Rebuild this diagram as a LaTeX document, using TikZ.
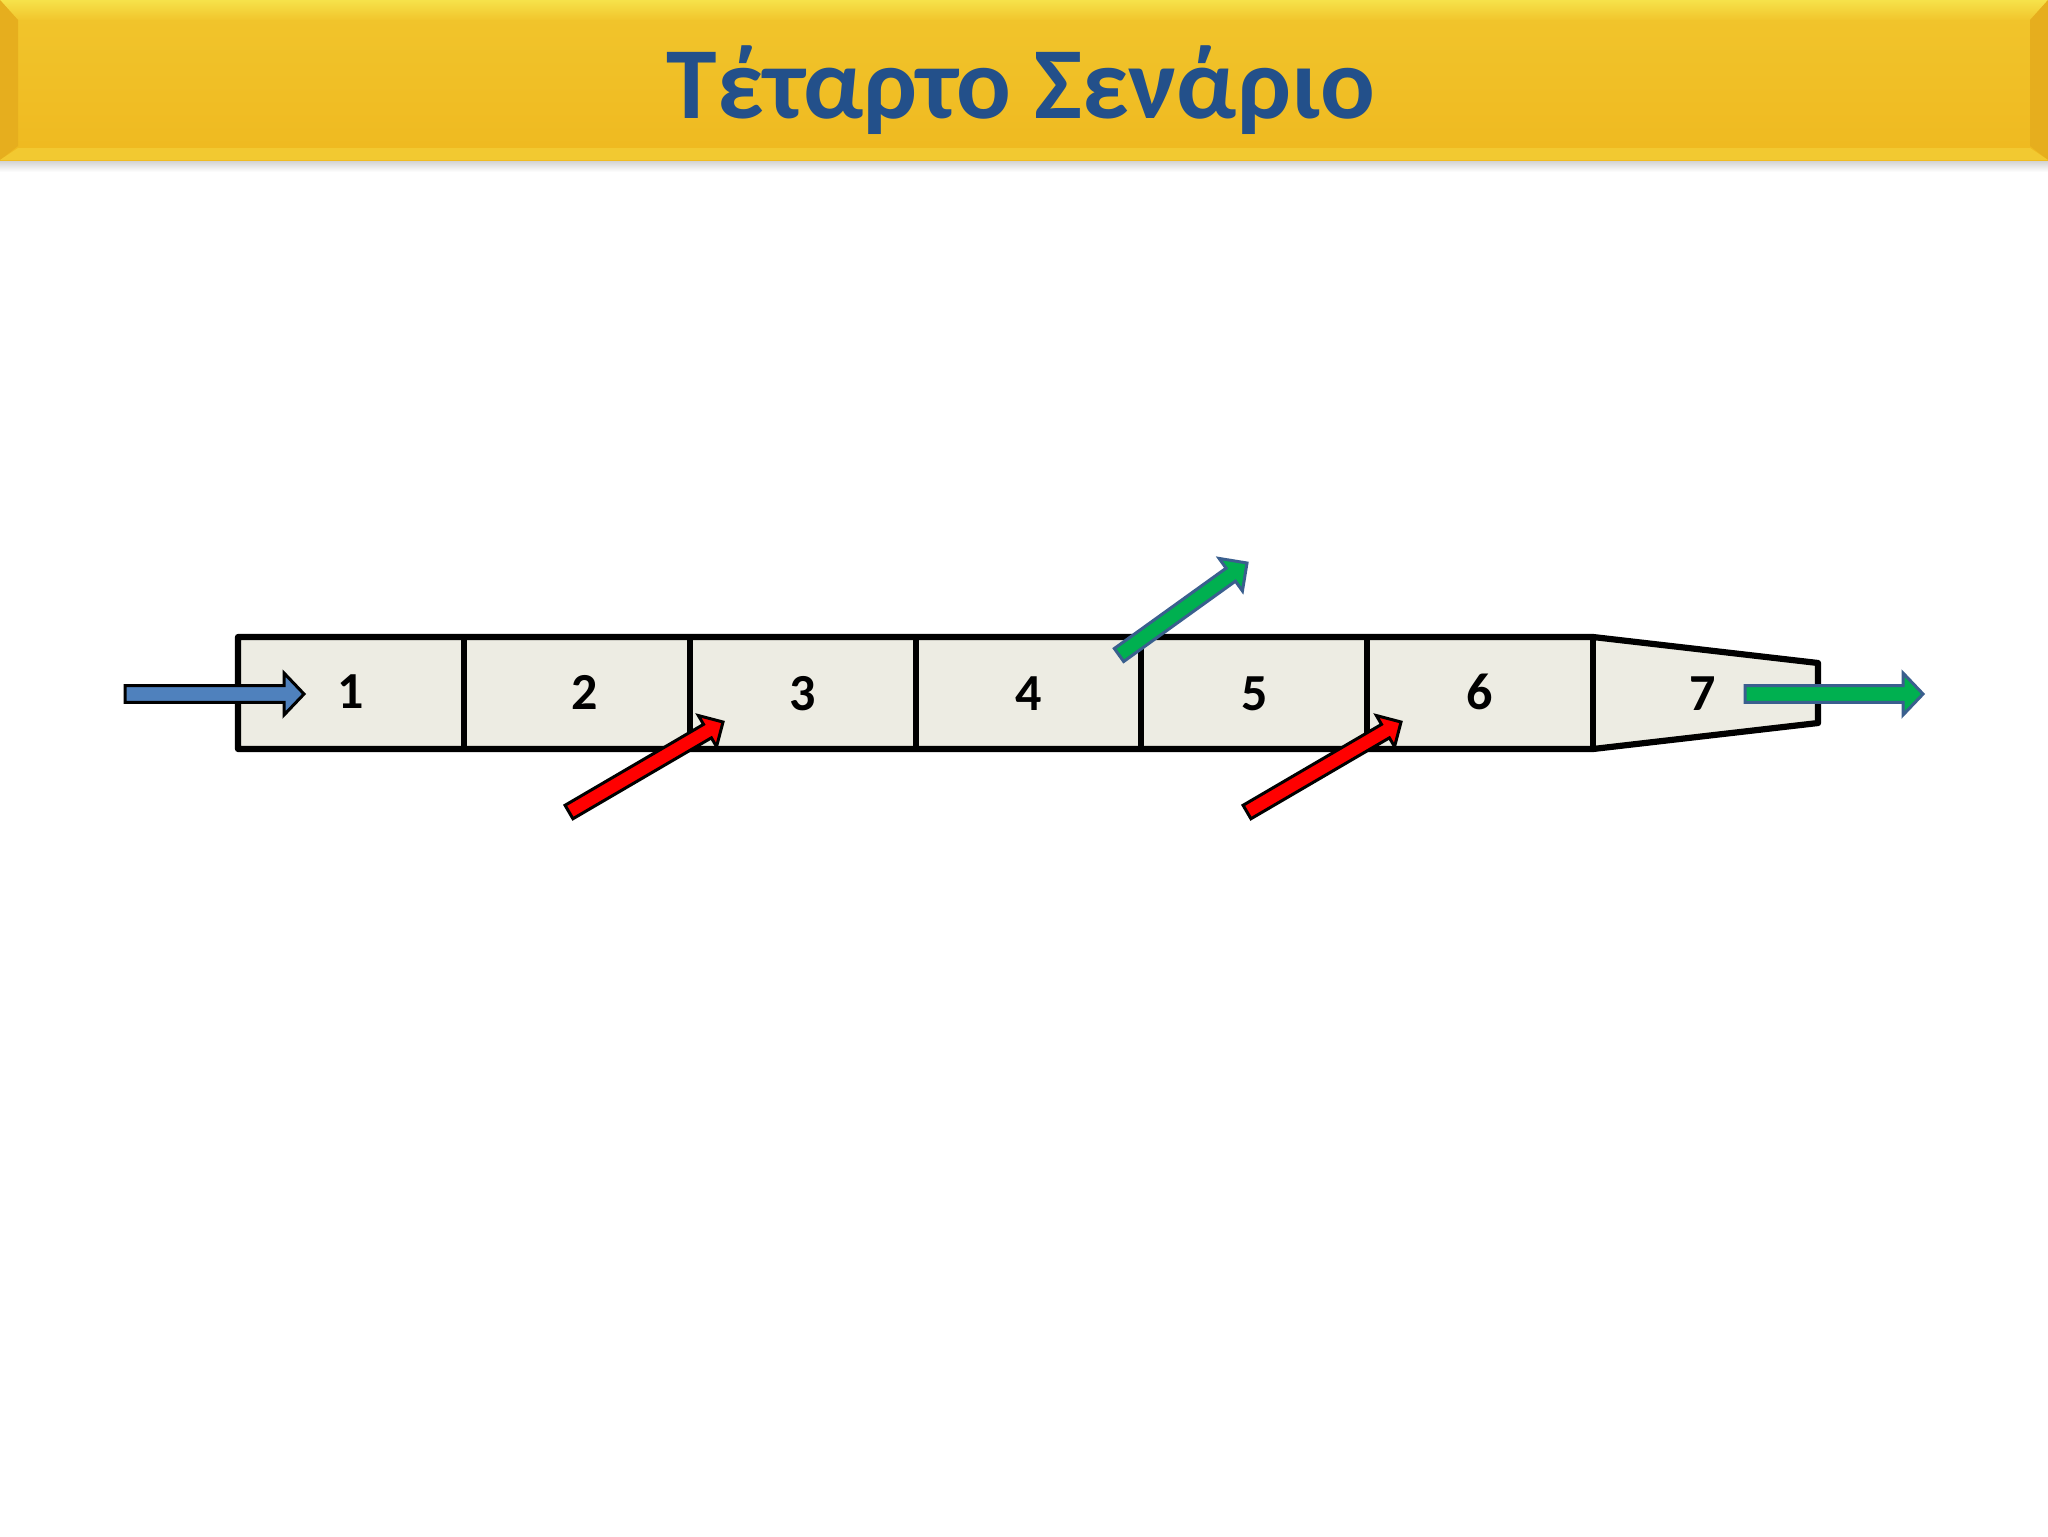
\documentclass[tikz,border=0pt]{standalone}
\usepackage{fontspec}
\setmainfont{Carlito}
\usetikzlibrary{calc}
\definecolor{barGold}{HTML}{EFB920}
\definecolor{barLight}{HTML}{F6E24A}
\definecolor{barDark}{HTML}{E6AE1E}
\definecolor{titleBlue}{HTML}{23508A}
\definecolor{cellFill}{HTML}{EDECE3}
\definecolor{arrBlue}{HTML}{4F81BD}
\definecolor{arrRed}{HTML}{FF0000}
\definecolor{arrGreen}{HTML}{00B050}
\definecolor{arrEdge}{HTML}{3A5F8E}
% #1 name, #2 tail, #3 tip, #4 shaft half-width, #5 head half-width, #6 head length, #7 style
\newcommand\blockarrow[7]{%
  \coordinate (#1b) at ($(#3)!#6!(#2)$);
  \draw[#7] ($(#2)!#4!-90:(#3)$) -- ($(#1b)!#4!-90:(#3)$) -- ($(#1b)!#5!-90:(#3)$)
    -- (#3) -- ($(#1b)!#5!90:(#3)$) -- ($(#1b)!#4!90:(#3)$) -- ($(#2)!#4!90:(#3)$) -- cycle;
}
\begin{document}
\begin{tikzpicture}[x=0.5pt,y=-0.5pt,
  boxline/.style={line width=3.1pt, line join=round, draw=black},
  celllabel/.style={font=\fontsize{26}{30}\selectfont\bfseries, text=black},
  redarrow/.style={fill=arrRed, draw=black, line width=1.5pt, line join=miter},
  bluearrow/.style={fill=arrBlue, draw=black, line width=1.5pt, line join=miter},
  greenarrow/.style={fill=arrGreen, draw=arrEdge, line width=1.5pt, line join=miter}]
\useasboundingbox (0,0) rectangle (2048,1536);
\fill[white] (0,0) rectangle (2048,1536);
% shadow under title bar
\shade[top color=black!22, bottom color=white] (0,158) rectangle (2048,172);
% title bar
\shade[top color=barGold!70!barLight, bottom color=barGold] (0,0) rectangle (2048,160);
\shade[top color=barLight, bottom color=barGold!70!barLight] (0,0) -- (2048,0) -- (2030,20) -- (18,20) -- cycle;
\fill[barDark] (0,0) -- (18,20) -- (18,146) -- (0,160) -- cycle;
\fill[barDark] (2048,0) -- (2030,20) -- (2030,146) -- (2048,160) -- cycle;
\fill[barGold!60!barLight] (0,160) -- (18,148) -- (2030,148) -- (2048,160) -- cycle;
\node[font=\fontsize{51}{60}\selectfont\bfseries, text=titleBlue] (title) at (1021,90) {Τέταρτο Σενάριο};
% reactor line
\filldraw[boxline, fill=cellFill] (238,637) -- (1593,637) -- (1818,663) -- (1818,723) -- (1593,749) -- (238,749) -- cycle;
\foreach \xx in {464,690,916,1141,1367,1593}
  \draw[boxline] (\xx,637) -- (\xx,749);
\node[celllabel] (n1) at (351,692) {1};
\node[celllabel] (n2) at (585,692) {2};
\node[celllabel] (n3) at (803,694) {3};
\node[celllabel] (n4) at (1029,694) {4};
\node[celllabel] (n5) at (1255,694) {5};
\node[celllabel] (n6) at (1480,692) {6};
\node[celllabel] (n7) at (1703,694) {7};
% arrows
\coordinate (inT) at (125,694);  \coordinate (inP) at (304,694);
\coordinate (r1T) at (569,812);  \coordinate (r1P) at (723,722);
\coordinate (r2T) at (1247,812); \coordinate (r2P) at (1401,722);
\coordinate (g1T) at (1119,655); \coordinate (g1P) at (1247,563);
\coordinate (outT) at (1745,694); \coordinate (outP) at (1923,694);
\blockarrow{in}{inT}{inP}{4.2pt}{10.5pt}{10pt}{bluearrow}
\blockarrow{ra}{r1T}{r1P}{3.9pt}{9pt}{9pt}{redarrow}
\blockarrow{rb}{r2T}{r2P}{3.9pt}{9pt}{9pt}{redarrow}
\blockarrow{ga}{g1T}{g1P}{4pt}{10pt}{10pt}{greenarrow}
\blockarrow{gb}{outT}{outP}{4.2pt}{10.5pt}{10pt}{greenarrow}
\end{tikzpicture}
\end{document}
